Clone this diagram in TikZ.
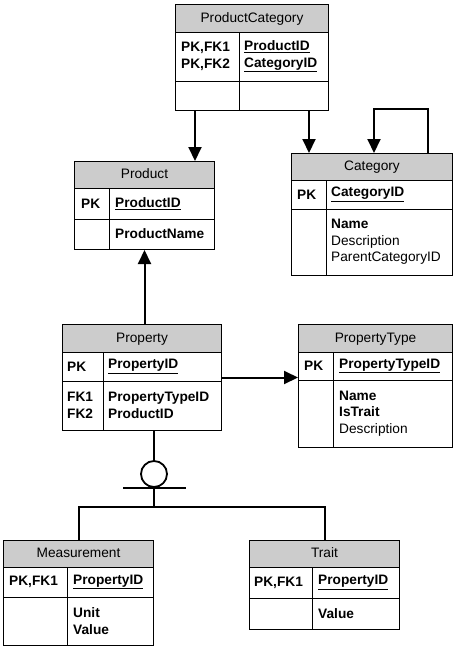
\documentclass[tikz,border=0pt]{standalone}
\usepackage{fontspec}
\setmainfont{Liberation Sans}
\usetikzlibrary{arrows.meta,positioning}

\begin{document}
\begin{tikzpicture}[x=1pt,y=-1pt,font=\fontsize{13.7}{16.7}\selectfont]
	\tikzstyle{entity} = [rectangle, draw=black, line width=1pt, inner sep=0pt, anchor=north west]
	\tikzstyle{header} = [entity, fill=gray!40, text height=10pt, text depth=3pt]
	\tikzstyle{cell} = [anchor=west, inner sep=0pt, align=left]
	\tikzstyle{bold} = [cell, font=\fontsize{13.7}{16.7}\selectfont\bfseries]
	\tikzstyle{rule} = [line width=1pt]
	\tikzstyle{link} = [line width=2pt]
	\tikzstyle{arrow} = [link, -{Triangle[length=14pt,width=13pt]}]
	\useasboundingbox (0,0) rectangle (456,648);
	% ProductCategory
	\node (pc) [entity, minimum width=153pt, minimum height=106pt] at (175,4) {};
	\node (pcHead) [header, minimum width=153pt, minimum height=28pt] at (175,4) {ProductCategory};
	\draw [rule] (175,81) -- (328,81);
	\draw [rule] (239,32) -- (239,110);
	\node (pcKeys) [bold] at (181,56.5) {PK,FK1\\PK,FK2};
	\node (pcFields) [bold] at (244,56.5) {\underline{ProductID}\\\underline{CategoryID}};
	% Product
	\node (product) [entity, minimum width=140pt, minimum height=88pt] at (74,161) {};
	\node (productHead) [header, minimum width=140pt, minimum height=27pt] at (74,161) {Product};
	\draw [rule] (74,219) -- (214,219);
	\draw [rule] (109,188) -- (109,249);
	\node (productKey) [bold] at (81,203.5) {PK};
	\node (productID) [bold] at (115,203.5) {\underline{ProductID}};
	\node (productName) [bold] at (115,234) {ProductName};
	% Category
	\node (category) [entity, minimum width=161pt, minimum height=122pt] at (291,153) {};
	\node (categoryHead) [header, minimum width=161pt, minimum height=27pt] at (291,153) {Category};
	\draw [rule] (291,209) -- (452,209);
	\draw [rule] (326,180) -- (326,275);
	\node (categoryKey) [bold] at (297,194.5) {PK};
	\node (categoryID) [bold] at (331,194.5) {\underline{CategoryID}};
	\node (categoryFields) [cell] at (331,242) {\textbf{Name}\\Description\\ParentCategoryID};
	% Property
	\node (property) [entity, minimum width=159pt, minimum height=106pt] at (62,324) {};
	\node (propertyHead) [header, minimum width=159pt, minimum height=28pt] at (62,324) {Property};
	\draw [rule] (62,381) -- (221,381);
	\draw [rule] (103,352) -- (103,430);
	\node (propertyKey) [bold] at (67,366.5) {PK};
	\node (propertyID) [bold] at (108,366.5) {\underline{PropertyID}};
	\node (propertyFKs) [bold] at (67,405.5) {FK1\\FK2};
	\node (propertyFields) [bold] at (108,405.5) {PropertyTypeID\\ProductID};
	% PropertyType
	\node (propType) [entity, minimum width=154pt, minimum height=123pt] at (298,324) {};
	\node (propTypeHead) [header, minimum width=154pt, minimum height=28pt] at (298,324) {PropertyType};
	\draw [rule] (298,380) -- (452,380);
	\draw [rule] (333,352) -- (333,447);
	\node (propTypeKey) [bold] at (304,366) {PK};
	\node (propTypeID) [bold] at (339,366) {\underline{PropertyTypeID}};
	\node (propTypeFields) [cell] at (339,413.5) {\textbf{Name}\\\textbf{IsTrait}\\Description};
	% Measurement
	\node (measurement) [entity, minimum width=150pt, minimum height=105pt] at (3,540) {};
	\node (measurementHead) [header, minimum width=150pt, minimum height=27pt] at (3,540) {Measurement};
	\draw [rule] (3,597) -- (153,597);
	\draw [rule] (67,567) -- (67,645);
	\node (measurementKey) [bold] at (9,582) {PK,FK1};
	\node (measurementID) [bold] at (73,582) {\underline{PropertyID}};
	\node (measurementFields) [bold] at (73,621) {Unit\\Value};
	% Trait
	\node (trait) [entity, minimum width=150pt, minimum height=89pt] at (249,540) {};
	\node (traitHead) [header, minimum width=150pt, minimum height=27pt] at (249,540) {Trait};
	\draw [rule] (249,598) -- (399,598);
	\draw [rule] (312,567) -- (312,629);
	\node (traitKey) [bold] at (254,582.5) {PK,FK1};
	\node (traitID) [bold] at (318,582.5) {\underline{PropertyID}};
	\node (traitValue) [bold] at (318,613.5) {Value};
	% subtype symbol
	\node (subtype) [circle, draw, line width=1.8pt, minimum size=26pt, inner sep=0pt] at (154,474) {};
	\coordinate (split) at (154,507);
	\draw [link] (subtype.north |- property.south) -- (subtype.north);
	\draw [link] ([xshift=-31pt]subtype.south) -- ([xshift=32pt]subtype.south);
	\draw [link] (subtype.south) -- (split);
	\draw [link] (split) -| (measurement.north);
	\draw [link] (split) -| (trait.north);
	% relationships
	\draw [arrow] ([xshift=20pt]pc.south west) -- ([xshift=20pt]pc.south west |- product.north);
	\draw [arrow] ([xshift=18pt]category.north west |- pc.south) -- ([xshift=18pt]category.north west);
	\draw [arrow] ([xshift=-25pt]category.north east) -- ++(0,-44) -| ([xshift=83pt]category.north west);
	\draw [arrow] (property.north -| product.south) -- (product.south);
	\draw [arrow] (property.east) -- (property.east -| propType.west);
\end{tikzpicture}
\end{document}
